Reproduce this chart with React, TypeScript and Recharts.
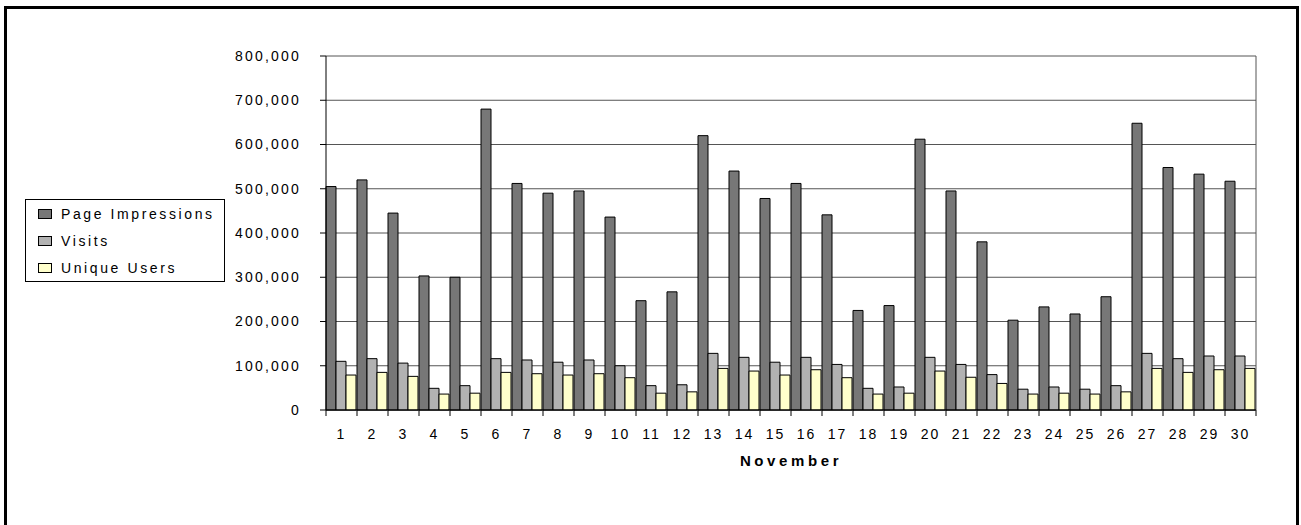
import React from "react";
import { BarChart, Bar, XAxis, YAxis, CartesianGrid } from "recharts";

const DAYS = ["1", "2", "3", "4", "5", "6", "7", "8", "9", "10", "11", "12", "13", "14", "15", "16", "17", "18", "19", "20", "21", "22", "23", "24", "25", "26", "27", "28", "29", "30"];
const PAGE_IMPRESSIONS = [505000, 520000, 445000, 303000, 300000, 680000, 512000, 490000, 495000, 436000, 247000, 267000, 620000, 540000, 478000, 512000, 441000, 225000, 236000, 612000, 495000, 380000, 203000, 233000, 217000, 256000, 648000, 548000, 533000, 517000];
const VISITS = [110000, 116000, 106000, 49000, 55000, 116000, 113000, 108000, 113000, 100000, 55000, 57000, 128000, 119000, 108000, 119000, 103000, 49000, 52000, 119000, 103000, 80000, 47000, 52000, 47000, 55000, 128000, 116000, 122000, 122000];
const UNIQUE_USERS = [79000, 85000, 76000, 36000, 38000, 85000, 82000, 79000, 82000, 73000, 38000, 41000, 94000, 88000, 79000, 91000, 73000, 36000, 38000, 88000, 74000, 60000, 36000, 38000, 36000, 41000, 94000, 85000, 91000, 94000];
const Y_TICKS = [0, 100000, 200000, 300000, 400000, 500000, 600000, 700000, 800000];

const SERIES = [
  { key: "pageImpressions", name: "Page Impressions", color: "#777777" },
  { key: "visits", name: "Visits", color: "#b2b2b2" },
  { key: "uniqueUsers", name: "Unique Users", color: "#ffffcc" },
];

const data = DAYS.map((day, i) => ({
  day,
  pageImpressions: PAGE_IMPRESSIONS[i],
  visits: VISITS[i],
  uniqueUsers: UNIQUE_USERS[i],
}));

const W = 1301;
const H = 525;
const MARGIN = { top: 56, right: 45, bottom: 55, left: 0 };
const Y_AXIS_W = 326;
const PLOT_W = W - MARGIN.left - MARGIN.right - Y_AXIS_W;
const HALF_BAND = PLOT_W / DAYS.length / 2;
const FONT = "'Liberation Sans', Arial, sans-serif";

function DayTick(props: any) {
  const { x, y, payload, index } = props;
  const top = y - 19;
  return (
    <g>
      <line x1={x - HALF_BAND} x2={x - HALF_BAND} y1={top} y2={top + 6} stroke="#000" />
      {index === DAYS.length - 1 && (
        <line x1={x + HALF_BAND} x2={x + HALF_BAND} y1={top} y2={top + 6} stroke="#000" />
      )}
      <text x={x} y={y} dy="0.71em" textAnchor="middle" fontSize={14} letterSpacing={2} fill="#000" fontFamily={FONT}>
        {payload.value}
      </text>
    </g>
  );
}

function ChartLegend() {
  return (
    <div
      style={{
        position: "absolute",
        left: 25,
        top: 199,
        width: 200,
        height: 83,
        boxSizing: "border-box",
        border: "1px solid #000",
        background: "#fff",
        fontFamily: FONT,
        fontSize: 14,
        letterSpacing: 2.6,
        paddingTop: 1,
      }}
    >
      {SERIES.map((s) => (
        <div key={s.key} style={{ display: "flex", alignItems: "center", height: 26.7, paddingLeft: 12 }}>
          <span style={{ width: 14, height: 10, boxSizing: "border-box", border: "1px solid #000", background: s.color, marginRight: 9 }} />
          <span>{s.name}</span>
        </div>
      ))}
    </div>
  );
}

export default function App() {
  return (
    <div style={{ position: "absolute", left: 0, top: 0, width: W, height: H, overflow: "hidden", background: "#fff", fontFamily: FONT }}>
      <BarChart width={W} height={H} data={data} margin={MARGIN} barCategoryGap={0} barGap={0}>
        <CartesianGrid
          stroke="#555"
          horizontal
          vertical
          verticalCoordinatesGenerator={({ offset }: any) => [offset.left + offset.width]}
        />
        <XAxis
          dataKey="day"
          height={60}
          tickLine={false}
          tickSize={6}
          tickMargin={13}
          interval={0}
          axisLine={{ stroke: "#000" }}
          tick={<DayTick />}
          label={{
            value: "November",
            position: "insideBottom",
            offset: 4,
            style: { fontSize: 15, fontWeight: "bold", letterSpacing: 3.6, fill: "#000", fontFamily: FONT },
          }}
        />
        <YAxis
          width={Y_AXIS_W}
          domain={[0, 800000]}
          ticks={Y_TICKS}
          interval={0}
          tickSize={6}
          tickMargin={19}
          axisLine={{ stroke: "#000" }}
          tickLine={{ stroke: "#000" }}
          tick={{ fontSize: 14, fill: "#000", letterSpacing: 2.2, fontFamily: FONT }}
          tickFormatter={(v: number) => v.toLocaleString("en-US")}
        />
        {SERIES.map((s) => (
          <Bar key={s.key} dataKey={s.key} name={s.name} fill={s.color} stroke="#000" strokeWidth={1} isAnimationActive={false} />
        ))}
      </BarChart>
      <ChartLegend />
      <div
        style={{
          position: "absolute",
          left: 4,
          top: 6,
          width: 1295,
          height: 519,
          boxSizing: "border-box",
          borderTop: "3px solid #000",
          borderLeft: "3px solid #000",
          borderRight: "3px solid #000",
          pointerEvents: "none",
        }}
      />
    </div>
  );
}
